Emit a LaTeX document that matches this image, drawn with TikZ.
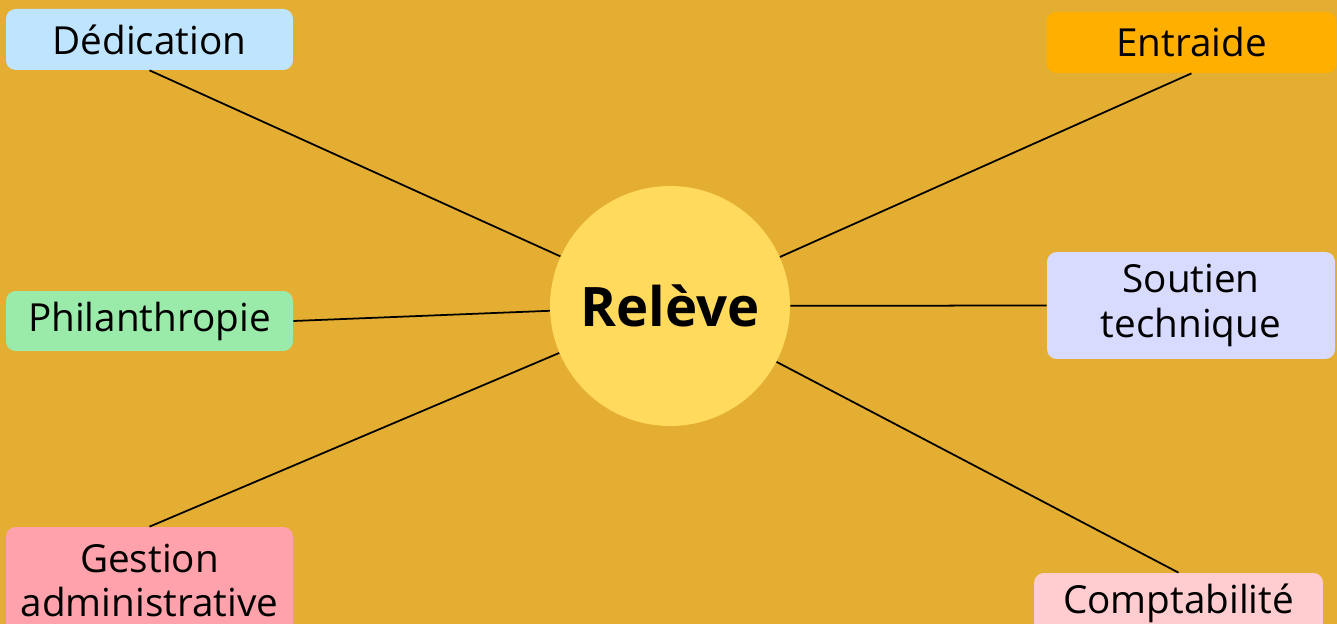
\documentclass[tikz,border=0pt]{standalone}
\usepackage{fontspec}
\setmainfont{Open Sans}
\usetikzlibrary{positioning}
\definecolor{bgcol}{HTML}{E4AE32}
\definecolor{hubcol}{HTML}{FFDA5C}
\definecolor{dedcol}{HTML}{BFE4FD}
\definecolor{entrcol}{HTML}{FFAF00}
\definecolor{philcol}{HTML}{9AEBAA}
\definecolor{soutcol}{HTML}{D8DAFE}
\definecolor{gestcol}{HTML}{FFA2AB}
\definecolor{compcol}{HTML}{FFCCCF}

\begin{document}
\begin{tikzpicture}[x=0.02cm, y=-0.02cm,
        topic/.style={rounded corners=5.5pt, text=black, minimum width=5.74cm, minimum height=1.22cm, inner sep=0pt, align=center, font=\fontsize{22}{25.6}\selectfont},
        hub/.style={circle, fill=hubcol, minimum size=4.8cm, inner sep=0pt, font=\bfseries\fontsize{31}{36}\selectfont},
        link/.style={draw=black, line width=1pt}
    ]
    \useasboundingbox (0,0) rectangle (1337,624);
    \fill[bgcol] (0,0) rectangle (1337,624);
    \clip (0,0) rectangle (1337,624);
    \node[hub] (rel) at (670,306) {Relève};
    \node[topic, fill=dedcol] (ded) at (149.5,39.5) {Dédication};
    \node[topic, fill=entrcol, minimum width=5.8cm] (entr) at (1191.5,42.5) {Entraide};
    \node[topic, fill=philcol, minimum height=1.2cm] (phil) at (149.5,321) {Philanthropie};
    \node[topic, fill=soutcol, minimum width=5.76cm, minimum height=2.14cm] (sout) at (1191,305.5) {Soutien\\technique};
    \node[topic, fill=gestcol, minimum height=2.14cm] (gest) at (149.5,580.5) {Gestion\\administrative};
    \node[topic, fill=compcol, minimum width=5.78cm] (comp) at (1178.5,603.5) {Comptabilité};
    \draw[link] (ded.south) -- (rel);
    \draw[link] (entr.south) -- (rel);
    \draw[link] (phil.east) -- (rel);
    \draw[link] (rel) -- (sout.west);
    \draw[link] (gest.north) -- (rel);
    \draw[link] (comp.north) -- (rel);
\end{tikzpicture}
\end{document}
